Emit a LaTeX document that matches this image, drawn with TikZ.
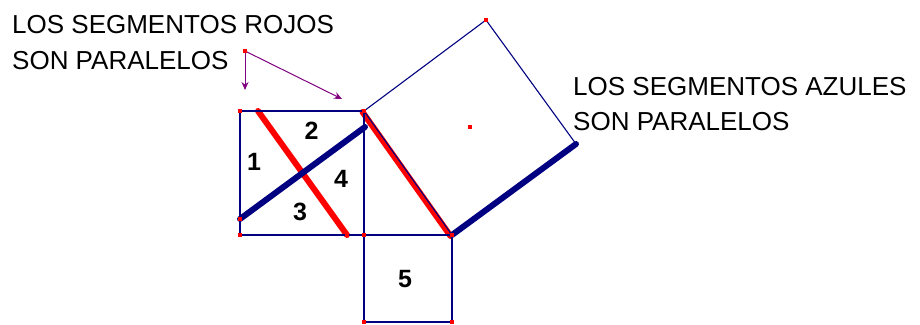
\documentclass[tikz,border=0pt]{standalone}
\usepackage{fontspec}
\setmainfont{Liberation Sans}
\usetikzlibrary{arrows.meta}
\definecolor{navyb}{RGB}{0,0,128}
\definecolor{purp}{RGB}{128,0,128}
\begin{document}
\begin{tikzpicture}[x=1pt,y=-1pt,
  thinb/.style={draw=navyb,line width=1.1pt},
  thickb/.style={draw=navyb,line width=6pt,line cap=round},
  thickr/.style={draw=red,line width=6pt,line cap=round},
  parrow/.style={draw=purp,line width=1pt,-{Stealth[length=8pt,width=7pt]}},
  pt/.style={fill=red},
  lab/.style={anchor=base west,inner sep=0pt,font=\fontsize{26}{30}\selectfont},
  num/.style={anchor=center,inner sep=0pt,font=\fontsize{25}{30}\selectfont\bfseries}]
\useasboundingbox (0,0) rectangle (920,324);
% points
\coordinate (A) at (240,111);
\coordinate (B) at (364,111);
\coordinate (C) at (364,235);
\coordinate (D) at (240,235);
\coordinate (E) at (452,235);
\coordinate (F) at (486,20);
\coordinate (G) at (576,144);
\coordinate (H) at (364,322);
\coordinate (I) at (452,322);
\coordinate (R1) at (258,111);
\coordinate (R2) at (347,235);
\coordinate (B1) at (240,219);
\coordinate (B2) at (365,127);
\coordinate (M) at (470,127);
\coordinate (P) at (245,51);
\coordinate (T1) at (245,90);
\coordinate (T2) at (342,99);
% thick red
\draw[thickr] (R1) -- (R2);
\draw[thickr] ([shift={(-1.5,1)}]B.center) -- ([shift={(-1.5,1)}]E.center);
% thin blue figure
\draw[thinb] (A) -- (B) -- (C) -- (D) -- cycle;
\draw[thinb] (C) -- (E) -- (I) -- (H) -- cycle;
\draw[thinb] (B) -- (F) -- (G);
\draw[thinb] (B) -- (E);
% thick blue
\draw[thickb] (B1) -- (B2);
\draw[thickb] (E) -- (G);
% arrows
\draw[parrow] (P) -- (T1);
\draw[parrow] (P) -- (T2);
% red points
\foreach \p in {A,B,C,D,E,F,H,I,B1,M,P,R2}
  \fill[pt] ([shift={(-2.2,-2.2)}]\p) rectangle ([shift={(2.2,2.2)}]\p);
% labels
\node[lab] (l1) at (12,33) {LOS SEGMENTOS ROJOS};
\node[lab] (l2) at (12,69) {SON PARALELOS};
\node[lab] (l3) at (573,95) {LOS SEGMENTOS AZULES};
\node[lab] (l4) at (573,130) {SON PARALELOS};
\node[num] (n1) at (254,162) {1};
\node[num] (n2) at (311.5,131) {2};
\node[num] (n3) at (300,212) {3};
\node[num] (n4) at (341,179) {4};
\node[num] (n5) at (405,279) {5};
\end{tikzpicture}
\end{document}
